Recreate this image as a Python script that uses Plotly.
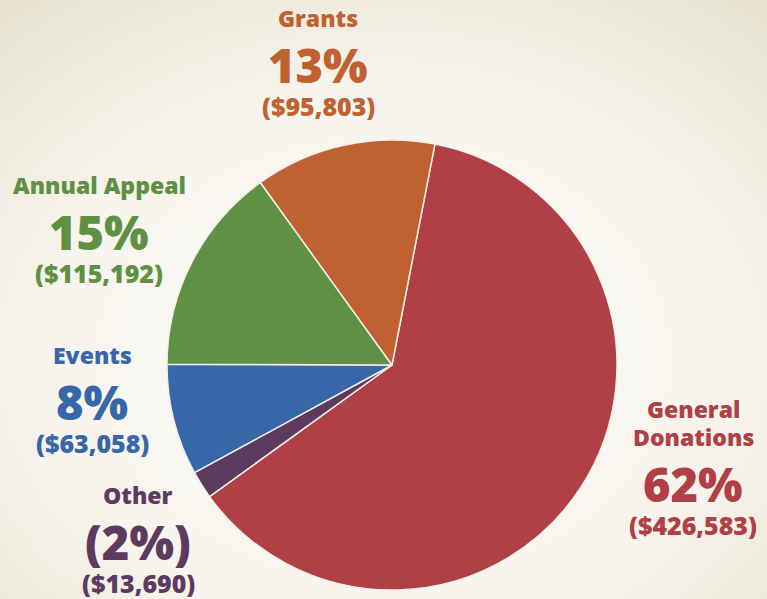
import base64
import plotly.graph_objects as go

# Data
categories = ["General Donations", "Other", "Events", "Annual Appeal", "Grants"]
percents = [62, 2, 8, 15, 13]
amounts = ["($426,583)", "($13,690)", "($63,058)", "($115,192)", "($95,803)"]
pct_labels = ["62%", "(2%)", "8%", "15%", "13%"]
name_lines = [["General", "Donations"], ["Other"], ["Events"], ["Annual Appeal"], ["Grants"]]
colors = ["#b13f46", "#5d3a5f", "#3766a9", "#5f9044", "#bf6131"]

W, H = 767, 599

fig = go.Figure()
fig.add_trace(go.Pie(
    labels=categories,
    values=percents,
    sort=False,
    direction="clockwise",
    rotation=11,
    marker=dict(colors=colors, line=dict(color="#f2efe6", width=1.5)),
    textinfo="none",
    hoverinfo="label+percent",
    showlegend=False,
    domain=dict(x=[167 / W, 617 / W], y=[9 / H, 459 / H]),
))

# Label layout: center x, y of first name line (px from top)
label_pos = {
    "General Donations": (693, 409),
    "Other": (138, 495),
    "Events": (92, 355),
    "Annual Appeal": (99, 185),
    "Grants": (318, 18),
}

FONT = "Open Sans"
annotations = []
for i, cat in enumerate(categories):
    x, y = label_pos[cat]
    col = colors[i]
    yy = y
    for ln in name_lines[i]:
        annotations.append(dict(x=x / W, y=1 - yy / H, xref="paper", yref="paper",
                                text=ln, showarrow=False,
                                font=dict(family=FONT, size=23, color=col, weight=800),
                                xanchor="center", yanchor="middle"))
        yy += 28
    yy += 19
    annotations.append(dict(x=x / W, y=1 - yy / H, xref="paper", yref="paper",
                            text=pct_labels[i], showarrow=False,
                            font=dict(family=FONT, size=47, color=col, weight=800),
                            xanchor="center", yanchor="middle"))
    yy += 41
    annotations.append(dict(x=x / W, y=1 - yy / H, xref="paper", yref="paper",
                            text=amounts[i], showarrow=False,
                            font=dict(family=FONT, size=25, color=col, weight=800),
                            xanchor="center", yanchor="middle"))

svg = f'''<svg xmlns="http://www.w3.org/2000/svg" width="{W}" height="{H}">
<defs><radialGradient id="g" cx="50%" cy="60%" r="75%">
<stop offset="0%" stop-color="#fdfdfa"/><stop offset="60%" stop-color="#f6f4ec"/>
<stop offset="100%" stop-color="#e8e3d1"/></radialGradient></defs>
<rect width="{W}" height="{H}" fill="url(#g)"/></svg>'''
src = "data:image/svg+xml;base64," + base64.b64encode(svg.encode()).decode()

fig.update_layout(
    width=W, height=H,
    margin=dict(l=0, r=0, t=0, b=0),
    paper_bgcolor="#f5f3ea",
    plot_bgcolor="#f5f3ea",
    annotations=annotations,
    images=[dict(source=src, xref="paper", yref="paper", x=0, y=1,
                 sizex=1, sizey=1, xanchor="left", yanchor="top",
                 sizing="stretch", layer="below")],
)

fig.write_html("out.html")
